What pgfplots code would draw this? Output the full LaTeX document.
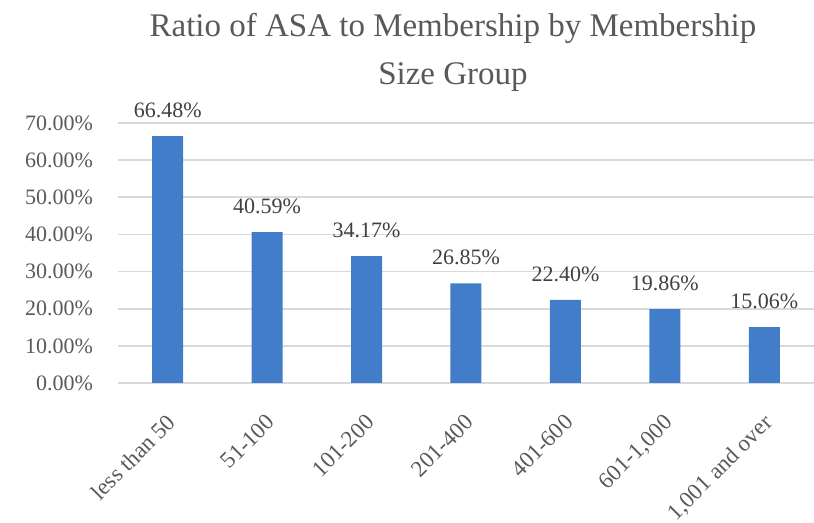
\documentclass[border=0pt]{standalone}
\usepackage{pgfplots}
\pgfplotsset{compat=1.18}
\usepackage{fontspec}
\setmainfont{Liberation Serif}
\definecolor{barblue}{RGB}{65,125,201}
\definecolor{gridgray}{RGB}{217,217,217}
\definecolor{txtgray}{RGB}{89,89,89}
\definecolor{lblgray}{RGB}{64,64,64}
\begin{document}
\begin{tikzpicture}
\path[use as bounding box] (-59pt,-70pt) rectangle (348pt,191.5pt);
\begin{axis}[
  at={(0,0)}, anchor=south west,
  scale only axis, width=348pt, height=130pt,
  xmin=-0.5, xmax=6.5, ymin=0, ymax=70,
  ytick={0,10,...,70},
  xtick={0,...,6},
  xticklabels={less than 50,51-100,101-200,201-400,401-600,601-1{,}000,{1,001 and over}},
  axis line style={draw=none},
  major tick length=0pt,
  ymajorgrids, major grid style={gridgray, line width=0.8pt},
  /pgf/number format/assume math mode=true,
  yticklabel={\pgfmathprintnumber[fixed,fixed zerofill,precision=2]{\tick}\%},
  yticklabel style={font=\fontsize{11}{13}\selectfont, text=txtgray, xshift=-9pt},
  xticklabel style={font=\fontsize{11.5}{14}\selectfont, text=txtgray, yshift=-10pt, xshift=-1pt, rotate=45, anchor=north east},
  clip=false,
]
\addplot[ybar, bar width=15.5pt, fill=barblue, draw=none,
  nodes near coords={\pgfmathprintnumber[fixed,fixed zerofill,precision=2]{\pgfplotspointmeta}\%},
  nodes near coords style={font=\fontsize{11}{13}\selectfont, text=lblgray, yshift=5.5pt}]
  coordinates {(0,66.48) (1,40.59) (2,34.17) (3,26.85) (4,22.40) (5,19.86) (6,15.06)};
\end{axis}
\node[font=\fontsize{16.5}{24}\selectfont, text=txtgray, align=center] at (167.5pt,165.5pt)
  {Ratio of ASA to Membership by Membership\\Size Group};
\end{tikzpicture}
\end{document}
